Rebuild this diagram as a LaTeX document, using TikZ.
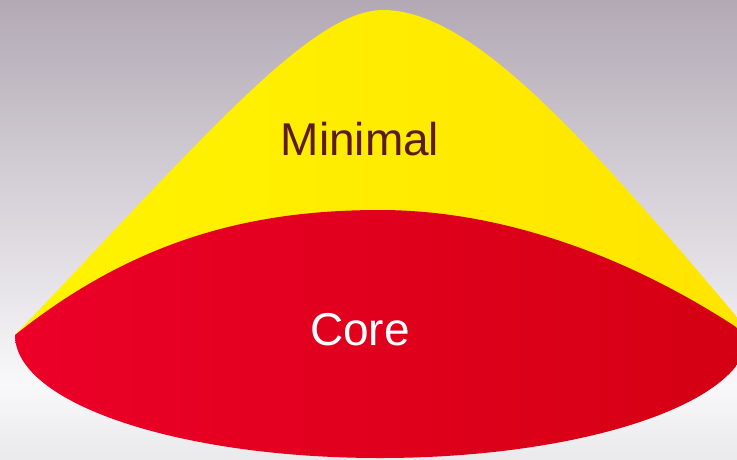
\documentclass[tikz,border=0pt]{standalone}
\usepackage{fontspec}
\setmainfont{Liberation Sans}
\usetikzlibrary{positioning}
\definecolor{bgtop}{RGB}{178,169,180}
\definecolor{bgmid}{RGB}{216,211,218}
\definecolor{bglow}{RGB}{248,248,250}
\definecolor{bgbot}{RGB}{234,234,236}
\definecolor{minyel}{RGB}{255,244,0}
\definecolor{minyeldark}{RGB}{255,228,0}
\definecolor{corered}{RGB}{236,0,40}
\definecolor{coredark}{RGB}{212,0,18}
\definecolor{labbrown}{RGB}{92,28,28}
\pgfdeclareverticalshading{backdrop}{100bp}{color(0bp)=(bgbot); color(25bp)=(bgbot); color(33bp)=(bglow); color(53bp)=(bgmid); color(75bp)=(bgtop); color(100bp)=(bgtop)}
\tikzstyle{every path}=[line width=0pt]
\tikzstyle{lbl}=[font=\fontsize{46}{50}\selectfont, anchor=base, inner sep=0pt]

\begin{document}
\begin{tikzpicture}[x=1pt,y=-1pt]
  \useasboundingbox (0,0) rectangle (737,459);
  % backdrop
  \shade[shading=backdrop] (0,0) rectangle (737,459);
  % Minimal
  \shade[left color=minyel, right color=minyeldark]
    (15,335) .. controls (200,142) and (310,10) .. (383,10)
    .. controls (470,10) and (580,130) .. (752,335) -- cycle;
  % Core
  \shade[left color=corered, middle color=corered, right color=coredark]
    (15,335) .. controls (140,235) and (260,210) .. (380,210)
    .. controls (500,210) and (630,255) .. (748,335)
    .. controls (748,403) and (582,458) .. (380,458)
    .. controls (178,458) and (15,403) .. cycle;
  \node[lbl, text=labbrown] (minimal) at (360,155) {Minimal};
  \node[lbl, text=white] (core) at (360,345) {Core};
\end{tikzpicture}
\end{document}
